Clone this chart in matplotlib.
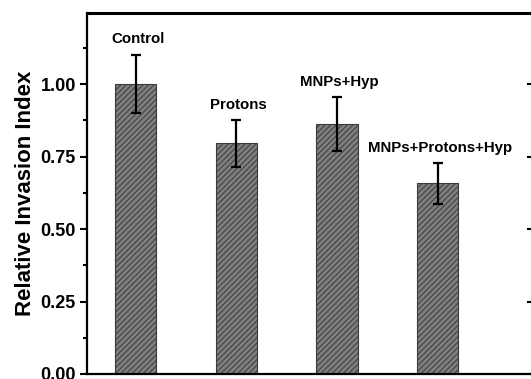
import matplotlib
matplotlib.use("Agg")
import matplotlib.pyplot as plt
from matplotlib.ticker import MultipleLocator

plt.rcParams['font.family'] = ['Liberation Sans', 'DejaVu Sans']
plt.rcParams['font.weight'] = 'bold'
plt.rcParams['hatch.color'] = '#3a3a3a'
plt.rcParams['hatch.linewidth'] = 0.7

# Relative invasion index per treatment group (mean and error)
groups = ["Control", "Protons", "MNPs+Hyp", "MNPs+Protons+Hyp"]
invasion = [1.00, 0.795, 0.862, 0.657]
errors = [0.100, 0.080, 0.092, 0.069]
y_ticks = [0.00, 0.25, 0.50, 0.75, 1.00]
y_label = "Relative Invasion Index"

fig = plt.figure(figsize=(5.31, 3.79), dpi=100)
ax = fig.add_axes([87 / 531, 5 / 379, 448 / 531, 361 / 379])

pos = list(range(1, len(groups) + 1))
ax.bar(pos, invasion, width=0.41, color='#7e7e7e', edgecolor='#3a3a3a',
       linewidth=0.8, hatch='//////', zorder=2)
ax.errorbar(pos, invasion, yerr=errors, fmt='none', ecolor='black',
            elinewidth=1.6, capsize=3.6, capthick=1.6, zorder=3)

for p, name, v, e in zip(pos, groups, invasion, errors):
    ax.text(p + 0.025, v + e + 0.04, name, ha='center', va='baseline',
            fontsize=10.8, fontweight='bold', color='black')

ax.set_xlim(0.518, 4.967)
ax.set_ylim(0, 1.245)
ax.set_yticks(y_ticks)
ax.set_yticklabels([f"{t:.2f}" for t in y_ticks])
ax.yaxis.set_minor_locator(MultipleLocator(0.125))
ax.set_xticks([])

ax.tick_params(axis='y', which='major', direction='out', length=5, width=1.5,
               pad=3, labelsize=13)
ax.tick_params(axis='y', which='minor', direction='out', length=3, width=1.5)
for lab in ax.get_yticklabels():
    lab.set_fontweight('bold')

ax.spines['left'].set_linewidth(1.6)
ax.spines['bottom'].set_linewidth(1.6)
ax.spines['top'].set_linewidth(2.2)
ax.spines['right'].set_linewidth(1.6)

# Right-hand axis: inward major ticks only
sec = ax.secondary_yaxis('right')
sec.set_yticks(y_ticks)
sec.tick_params(axis='y', direction='in', length=6, width=1.5, labelright=False)
sec.spines['right'].set_linewidth(1.6)

ax.set_ylabel(y_label, fontsize=16, fontweight='bold')
ax.yaxis.set_label_coords(-0.113, 0.5)

fig.savefig("out.png", dpi=100)
